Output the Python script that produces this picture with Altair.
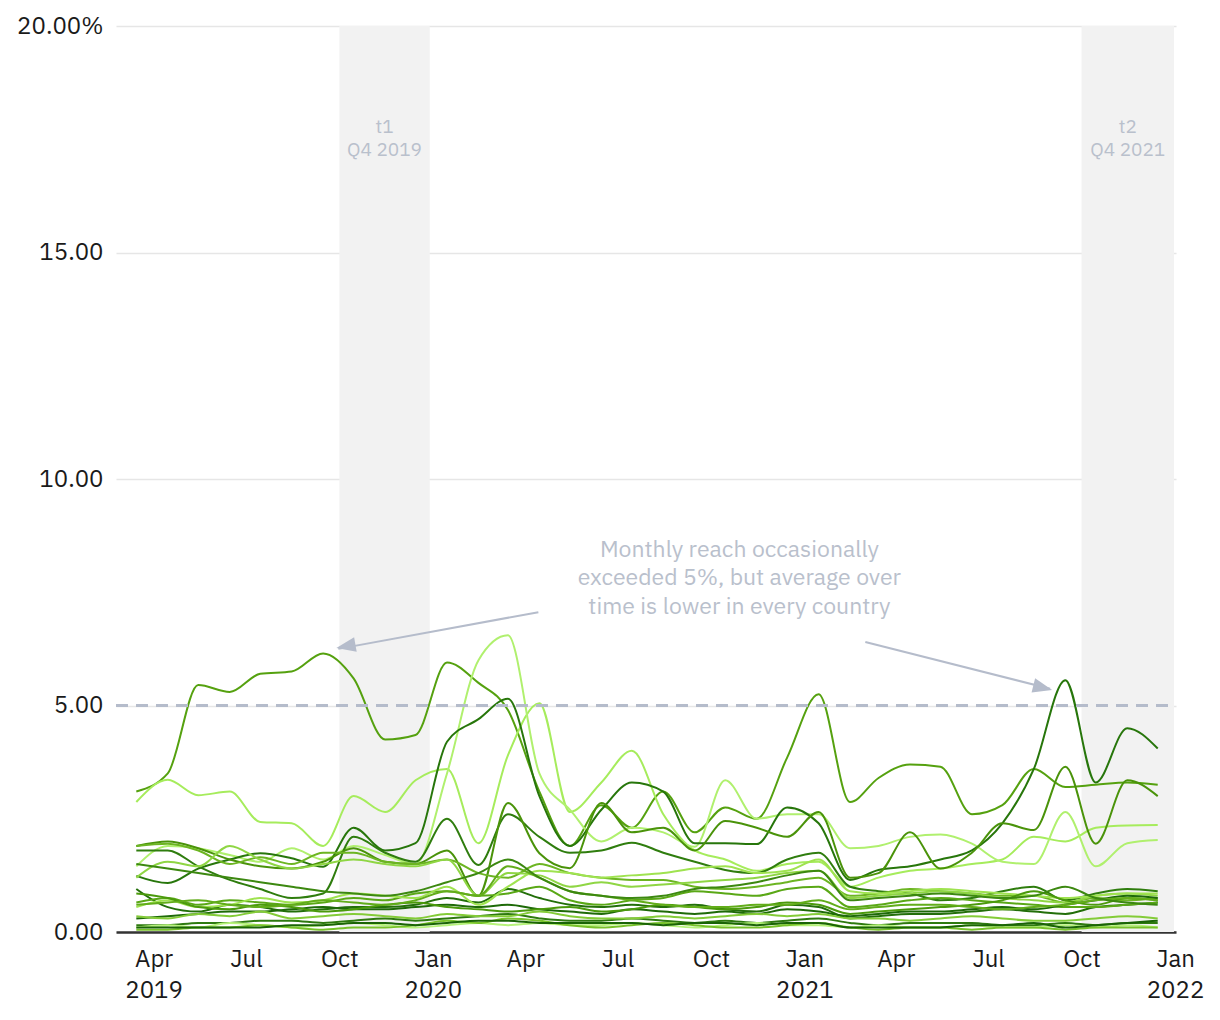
import altair as alt
import pandas as pd

# ---- data -------------------------------------------------------------
months = [f"{2019 + (2 + i) // 12}-{(2 + i) % 12 + 1:02d}-15T00:00:00" for i in range(34)]

s01 = [3.10, 3.5, 5.45, 5.3, 5.7, 5.75, 6.15, 5.6, 4.25, 4.35, 5.95, 5.5, 4.9, 3.1, 1.9, 2.8, 2.3, 3.1, 2.2, 2.75, 2.5, 3.85, 5.25, 2.87, 3.4, 3.7, 3.65, 2.6, 2.8, 3.6, 3.2, 3.25, 3.3, 3.25]
s02 = [2.87, 3.36, 3.02, 3.1, 2.43, 2.4, 1.9, 3.0, 2.65, 3.35, 3.6, 1.96, 3.9, 5.05, 2.65, 3.3, 4.0, 2.6, 1.8, 1.6, 1.35, 1.5, 1.55, 1.0, 1.2, 1.35, 1.4, 1.5, 1.6, 2.1, 2.0, 2.3, 2.35, 2.36]
s03 = [1.45, 1.9, 1.85, 1.7, 1.55, 1.85, 1.6, 1.9, 1.7, 1.5, 3.5, 6.0, 6.55, 3.5, 2.7, 2.0, 2.3, 2.2, 1.88, 3.35, 2.5, 2.6, 2.6, 1.85, 1.9, 2.1, 2.15, 1.95, 1.55, 1.5, 2.65, 1.45, 1.96, 2.03]
s04 = [1.24, 1.08, 1.4, 1.6, 1.74, 1.63, 1.44, 2.3, 1.8, 1.96, 4.2, 4.7, 5.15, 3.0, 1.9, 2.7, 3.3, 3.1, 1.96, 1.96, 1.94, 2.75, 2.4, 1.15, 1.37, 1.45, 1.6, 1.8, 2.4, 3.6, 5.56, 3.3, 4.5, 4.05]
s05 = [1.8, 1.8, 1.45, 1.15, 0.95, 0.75, 0.85, 2.1, 1.75, 1.55, 2.5, 1.48, 2.6, 2.1, 1.75, 1.8, 1.97, 1.75, 1.55, 1.37, 1.3, 1.6, 1.75, 1.0, 0.9, 0.85, 0.7, 0.75, 0.9, 1.0, 0.7, 0.85, 0.95, 0.9]
s06 = [1.9, 2.0, 1.85, 1.6, 1.45, 1.4, 1.55, 1.85, 1.55, 1.5, 1.8, 0.8, 2.85, 1.74, 1.41, 2.85, 2.2, 2.3, 1.8, 2.45, 2.3, 2.1, 2.65, 1.2, 1.3, 2.2, 1.4, 1.75, 2.4, 2.25, 3.65, 1.95, 3.35, 3.0]
s07 = [1.9, 1.95, 1.8, 1.5, 1.65, 1.5, 1.75, 1.75, 1.55, 1.5, 1.6, 1.3, 1.2, 1.5, 1.3, 1.2, 1.15, 1.15, 1.0, 0.95, 1.0, 1.1, 1.2, 0.8, 0.85, 0.95, 0.9, 0.85, 0.8, 0.8, 0.65, 0.75, 0.7, 0.75]
s08 = [1.2, 1.55, 1.45, 1.9, 1.6, 1.4, 1.5, 1.6, 1.5, 1.45, 1.6, 0.8, 1.3, 1.25, 1.0, 1.1, 1.0, 1.05, 1.1, 1.15, 1.2, 1.3, 1.35, 0.75, 0.8, 0.85, 0.9, 0.85, 0.75, 0.7, 0.65, 0.8, 0.85, 0.8]
s09 = [0.95, 0.55, 0.45, 0.6, 0.55, 0.45, 0.5, 0.55, 0.55, 0.6, 0.75, 0.65, 0.95, 0.75, 0.6, 0.55, 0.6, 0.55, 0.6, 0.5, 0.45, 0.6, 0.55, 0.3, 0.35, 0.4, 0.4, 0.45, 0.5, 0.45, 0.4, 0.55, 0.6, 0.65]
s10 = [0.65, 0.75, 0.6, 0.7, 0.65, 0.6, 0.65, 0.75, 0.7, 0.85, 0.9, 0.8, 0.85, 1.0, 0.7, 0.6, 0.7, 0.75, 0.9, 0.85, 0.8, 0.95, 1.0, 0.55, 0.6, 0.7, 0.75, 0.7, 0.65, 0.6, 0.55, 0.55, 0.6, 0.65]
s11 = [0.55, 0.7, 0.55, 0.6, 0.75, 0.65, 0.7, 0.85, 0.8, 0.75, 1.0, 0.6, 1.0, 1.35, 1.3, 1.2, 1.25, 1.3, 1.4, 1.45, 1.3, 1.35, 1.6, 0.9, 0.85, 0.9, 0.95, 0.9, 0.85, 0.8, 0.75, 0.8, 0.85, 0.85]
s12 = [0.3, 0.35, 0.4, 0.45, 0.45, 0.5, 0.55, 0.5, 0.5, 0.55, 0.6, 0.55, 0.6, 0.5, 0.45, 0.4, 0.5, 0.45, 0.4, 0.45, 0.4, 0.5, 0.45, 0.35, 0.4, 0.45, 0.45, 0.5, 0.55, 0.5, 0.6, 0.7, 0.8, 0.75]
s13 = [0.85, 0.75, 0.55, 0.5, 0.6, 0.55, 0.45, 0.5, 0.6, 0.65, 0.55, 0.5, 0.45, 0.5, 0.55, 0.45, 0.5, 0.6, 0.55, 0.5, 0.55, 0.65, 0.6, 0.4, 0.45, 0.5, 0.55, 0.6, 0.7, 0.9, 0.7, 0.6, 0.75, 0.7]
s14 = [0.15, 0.15, 0.2, 0.2, 0.25, 0.25, 0.2, 0.25, 0.3, 0.25, 0.3, 0.35, 0.4, 0.3, 0.25, 0.25, 0.3, 0.25, 0.2, 0.25, 0.2, 0.25, 0.3, 0.2, 0.15, 0.2, 0.2, 0.2, 0.15, 0.15, 0.2, 0.15, 0.2, 0.2]
s15 = [0.1, 0.15, 0.1, 0.2, 0.15, 0.1, 0.15, 0.2, 0.15, 0.1, 0.15, 0.2, 0.15, 0.2, 0.15, 0.15, 0.2, 0.15, 0.1, 0.15, 0.2, 0.15, 0.15, 0.1, 0.15, 0.1, 0.1, 0.15, 0.1, 0.1, 0.15, 0.1, 0.15, 0.1]
s16 = [0.05, 0.05, 0.1, 0.1, 0.15, 0.1, 0.05, 0.1, 0.1, 0.15, 0.25, 0.2, 0.3, 0.25, 0.15, 0.1, 0.15, 0.2, 0.15, 0.1, 0.1, 0.15, 0.2, 0.1, 0.05, 0.1, 0.1, 0.05, 0.1, 0.1, 0.05, 0.1, 0.1, 0.1]
s17 = [0.1, 0.1, 0.1, 0.1, 0.1, 0.15, 0.15, 0.2, 0.2, 0.15, 0.2, 0.25, 0.25, 0.2, 0.2, 0.2, 0.2, 0.15, 0.2, 0.2, 0.15, 0.2, 0.2, 0.1, 0.1, 0.1, 0.1, 0.15, 0.15, 0.2, 0.1, 0.15, 0.2, 0.25]
s18 = [0.6, 0.65, 0.7, 0.6, 0.55, 0.6, 0.7, 0.65, 0.6, 0.7, 0.9, 0.8, 1.45, 1.2, 0.9, 0.8, 0.7, 0.6, 0.55, 0.55, 0.6, 0.6, 0.7, 0.5, 0.55, 0.6, 0.6, 0.55, 0.5, 0.55, 0.6, 0.7, 0.75, 0.7]
s19 = [0.35, 0.3, 0.4, 0.35, 0.45, 0.3, 0.35, 0.4, 0.35, 0.3, 0.4, 0.35, 0.35, 0.45, 0.35, 0.3, 0.3, 0.35, 0.3, 0.35, 0.4, 0.35, 0.4, 0.3, 0.3, 0.25, 0.3, 0.35, 0.3, 0.25, 0.25, 0.3, 0.35, 0.3]
s20 = [1.5, 1.4, 1.3, 1.2, 1.1, 1.0, 0.9, 0.85, 0.8, 0.9, 1.1, 1.3, 1.6, 1.2, 0.9, 0.8, 0.75, 0.8, 0.95, 1.0, 1.1, 1.25, 1.35, 0.7, 0.75, 0.8, 0.85, 0.8, 0.75, 0.8, 1.0, 0.75, 0.65, 0.6]

series = [s01, s02, s03, s04, s05, s06, s07, s08, s09, s10,
          s11, s12, s13, s14, s15, s16, s17, s18, s19, s20]
names = [f"Country {i + 1:02d}" for i in range(len(series))]
colors = ["#55a10f", "#a6ec5c", "#b0f06e", "#27760b", "#2f7d0e", "#4a930a", "#6cb522", "#8fd644",
          "#236f0a", "#5aa816", "#9fe350", "#1e6a08", "#4b9a0c", "#2e7a0f", "#b6f27a", "#78c22a",
          "#1a6406", "#62ad1a", "#84cc38", "#3c8810"]

bands_start = ["2019-10-01T00:00:00", "2021-10-01T00:00:00"]
bands_end = ["2019-12-29T00:00:00", "2021-12-31T00:00:00"]
band_mid = ["2019-11-14T12:00:00", "2021-11-15T12:00:00"]
band_line1 = ["t1", "t2"]
band_line2 = ["Q4 2019", "Q4 2021"]

note_lines = ["Monthly reach occasionally", "exceeded 5%, but average over", "time is lower in every country"]
note_date = "2020-10-29T00:00:00"
note_y = [8.43, 7.81, 7.17]

arrow_ids = ["a1", "a1", "a2", "a2"]
arrow_dates = ["2020-04-14T00:00:00", "2019-09-30T00:00:00", "2021-03-02T00:00:00", "2021-08-31T00:00:00"]
arrow_vals = [7.06, 6.25, 6.40, 5.37]
head_dates = ["2019-09-28T00:00:00", "2021-09-02T00:00:00"]
head_vals = [6.27, 5.34]
head_angles = [260, 104]

threshold = [5]

# ---- tables -----------------------------------------------------------
rows = []
for k, (n, s) in enumerate(zip(names, series)):
    for d, v in zip(months, s):
        rows.append({"country": n, "date": d, "value": v, "k": k})
df = pd.DataFrame(rows)

bands = pd.DataFrame({"start": bands_start, "end": bands_end})
band_text = pd.DataFrame({
    "date": band_mid * 2,
    "label": band_line1 + band_line2,
    "y": [17.77, 17.77, 17.26, 17.26],
})
notes = pd.DataFrame({"date": [note_date] * 3, "label": note_lines, "y": note_y})
arrows = pd.DataFrame({"id": arrow_ids, "date": arrow_dates, "value": arrow_vals})
heads = pd.DataFrame({"date": head_dates, "value": head_vals, "angle": head_angles})
thr = pd.DataFrame({"v": threshold})

# ---- scales / axes ----------------------------------------------------
FONT = "IBM Plex Sans, Noto Sans, sans-serif"
W, H = 1060, 906

xscale = alt.Scale(domain=[alt.DateTime(year=2019, month=2, date=23),
                           alt.DateTime(year=2022, month=1, date=2)])
yscale = alt.Scale(domain=[0, 20])

tick_dates = []
for yy, mm in [(2019, 4), (2019, 7), (2019, 10), (2020, 1), (2020, 4), (2020, 7), (2020, 10),
               (2021, 1), (2021, 4), (2021, 7), (2021, 10), (2022, 1)]:
    tick_dates.append(alt.DateTime(year=yy, month=mm, date=1))

xaxis = alt.Axis(
    values=tick_dates, grid=False, ticks=False, domain=True, domainColor="#333333", domainWidth=2.5,
    labelFont=FONT, labelFontSize=24, labelColor="#1a1a1a", labelPadding=15, labelLineHeight=31,
    labelOverlap=False, labelFlush=False,
    labelExpr="(month(datum.value) == 0 || (year(datum.value) == 2019 && month(datum.value) == 3)) ? "
              "[timeFormat(datum.value, '%b'), timeFormat(datum.value, '%Y')] : timeFormat(datum.value, '%b')",
)
yaxis = alt.Axis(
    values=[0, 5, 10, 15, 20], grid=True, gridColor="#e6e6e6", gridWidth=1.5, ticks=False, domain=False,
    labelFont=FONT, labelFontSize=24, labelColor="#1a1a1a", labelPadding=13,
    labelExpr="datum.value == 20 ? '20.00%' : format(datum.value, '.2f')",
)


def X(field, **kw):
    return alt.X(field, type="temporal", scale=xscale, axis=xaxis, title=None, **kw)


def Y(field, **kw):
    return alt.Y(field, type="quantitative", scale=yscale, axis=yaxis, title=None, **kw)


band_layer = alt.Chart(bands).mark_rect(color="#f2f2f2").encode(
    x=X("start"), x2="end", y=alt.value(0), y2=alt.value(H)
)

band_labels = alt.Chart(band_text).mark_text(
    font=FONT, fontSize=19, color="#b9c0cc", baseline="middle", align="center"
).encode(x=X("date"), y=Y("y"), text="label:N")

lines = alt.Chart(df).mark_line(interpolate="monotone", strokeWidth=2).encode(
    x=X("date"), y=Y("value"),
    color=alt.Color("country:N", scale=alt.Scale(domain=names, range=colors), legend=None),
    order=alt.Order("k:Q"),
)

rule = alt.Chart(thr).mark_rule(color="#b5bccb", strokeWidth=3, strokeDash=[12, 8]).encode(
    y=Y("v"), x=alt.value(0), x2=alt.value(W)
)

note_text = alt.Chart(notes).mark_text(
    font=FONT, fontSize=23, color="#b9c0cc", baseline="middle", align="center"
).encode(x=X("date"), y=Y("y"), text="label:N")

arrow_lines = alt.Chart(arrows).mark_line(color="#b5bccb", strokeWidth=2).encode(
    x=X("date"), y=Y("value"), detail="id:N"
)

arrow_heads = alt.Chart(heads).mark_point(
    shape="M0,0 L0.38,1 L-0.38,1 Z", filled=True, color="#b5bccb", size=1500, opacity=1
).encode(x=X("date"), y=Y("value"), angle=alt.Angle("angle:Q", scale=None))

chart = alt.layer(
    band_layer, band_labels, lines, rule, note_text, arrow_lines, arrow_heads
).properties(
    width=W, height=H,
    background="white",
    autosize=alt.AutoSizeParams(type="none"),
    padding={"left": 108, "top": 18, "right": 36, "bottom": 76},
).configure_view(stroke=None)

chart.save("out.html", embed_options={"renderer": "svg", "actions": False})
